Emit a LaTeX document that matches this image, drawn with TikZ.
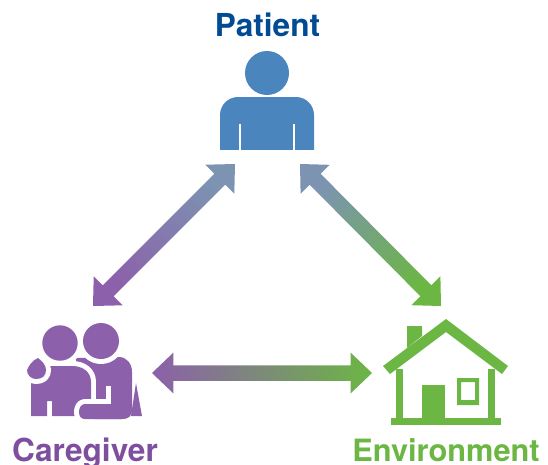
\documentclass[tikz,border=0pt]{standalone}
\usepackage{fontspec}
\setmainfont{TeX Gyre Heros}
\usepackage{tikz}
\usetikzlibrary{calc}

\definecolor{patientblue}{HTML}{4A86BD}
\definecolor{patienttext}{HTML}{004B93}
\definecolor{carepurple}{HTML}{8C60AA}
\definecolor{caretext}{HTML}{7F4F9F}
\definecolor{envgreen}{HTML}{6CB644}
\definecolor{midblue}{HTML}{7C93B2}

\tikzset{
	label text/.style={font=\fontsize{18}{20}\selectfont\bfseries, inner sep=0pt, anchor=base},
	gap line/.style={draw=white, line width=0.2cm, line join=round}
}

% double headed arrow: end, end, colour, colour, shading angle
\newcommand{\bigarrow}[5]{
\path[bottom color=#3, top color=#4, shading angle=#5]
	(#1) -- ($(#1)!0.43cm!(#2)!0.41cm!90:(#2)$) -- ($(#1)!0.43cm!(#2)!0.155cm!90:(#2)$)
	-- ($(#2)!0.43cm!(#1)!0.155cm!-90:(#1)$) -- ($(#2)!0.43cm!(#1)!0.41cm!-90:(#1)$)
	-- (#2) -- ($(#2)!0.43cm!(#1)!0.41cm!90:(#1)$) -- ($(#2)!0.43cm!(#1)!0.155cm!90:(#1)$)
	-- ($(#1)!0.43cm!(#2)!0.155cm!-90:(#2)$) -- ($(#1)!0.43cm!(#2)!0.41cm!-90:(#2)$) -- cycle;
}

\begin{document}
\begin{tikzpicture}[x=0.02cm,y=-0.02cm]
\useasboundingbox (0,0) rectangle (548,464);
\clip (0,0) rectangle (548,464);

% labels
\node[label text, text=patienttext] (patient) at (267.5,36) {Patient};
\node[label text, text=caretext] (caregiver) at (85,461) {Caregiver};
\node[label text, text=envgreen, font=\fontsize{17.5}{20}\selectfont\bfseries] (environment) at (446,461) {Environment};

% patient icon
\fill[patientblue] (267,73) circle (22);
\fill[patientblue, rounded corners=0.36cm] (220,170) -- (220,97) -- (314,97) -- (314,170) -- cycle;
\fill[white] (215,150) rectangle (319,175);
\fill[white] (239,124) rectangle (241,150);
\fill[white] (293,124) rectangle (295,150);

% caregiver icon
\fill[carepurple] (75,358) -- (119,357) .. controls (127,357) and (132,364) .. (132,372)
	-- (132,410) .. controls (132,416) and (128,419) .. (122,419) -- (80,419) -- (80,370) -- cycle;
\path[fill=carepurple, preaction={gap line}] (31,416) -- (31,383) -- (50,366) -- (72,366)
	.. controls (83,366) and (91,372) .. (91,382) -- (91,416) -- (52,416) -- (52,401) -- (47,401) -- (47,416) -- cycle;
\path[fill=carepurple, preaction={gap line}] (27,370) .. controls (29,365) and (33,360) .. (38,358)
	.. controls (42,361) and (46,365) .. (46,370) .. controls (46,376) and (42,379) .. (36,379)
	.. controls (31,379) and (27,375) .. (27,370) -- cycle;
\draw[gap line] (111,404) -- (85,404) .. controls (81,404) and (79,408) .. (79,412) .. controls (79,416) and (81,419) .. (85,419);
\fill[carepurple] (122,419) -- (85,419) .. controls (81,419) and (79,416) .. (79,412)
	.. controls (79,408) and (81,404) .. (85,404) -- (132,404) -- (132,410) .. controls (132,416) and (128,419) .. (122,419) -- cycle;
\fill[white] (106,386) rectangle (111,404);
\fill[carepurple] (111,386) rectangle (132,404);
\fill[carepurple] (136,383) -- (142,416) -- (131,416) -- cycle;
\path[fill=carepurple, preaction={gap line}] (101,341) circle (18);
\path[fill=carepurple, preaction={gap line}] (60,343) circle (17.7);

% environment icon
\fill[envgreen] (383,366) -- (446,319) -- (508,366) -- (502,374) -- (446,332) -- (390,374) -- cycle;
\fill[envgreen] (407,326) -- (422,326) -- (422,336) -- (407,348) -- cycle;
\fill[envgreen] (396,369) rectangle (403,420);
\fill[envgreen] (488,369) rectangle (495,420);
\fill[envgreen] (391,418) rectangle (501,425);
\fill[envgreen] (422,385) rectangle (445,418);
\fill[envgreen, even odd rule] (457,378) rectangle (479,405) (461,382) rectangle (475,400);

% arrows
\coordinate (patientleft) at (235,164);
\coordinate (patientright) at (300,164);
\coordinate (careup) at (93,306);
\coordinate (envup) at (441,306);
\coordinate (careright) at (152,373);
\coordinate (envleft) at (372,373);

\bigarrow{patientleft}{careup}{carepurple}{midblue}{-45}
\bigarrow{patientright}{envup}{envgreen}{midblue}{45}
\bigarrow{careright}{envleft}{envgreen}{carepurple}{90}
\end{tikzpicture}
\end{document}
